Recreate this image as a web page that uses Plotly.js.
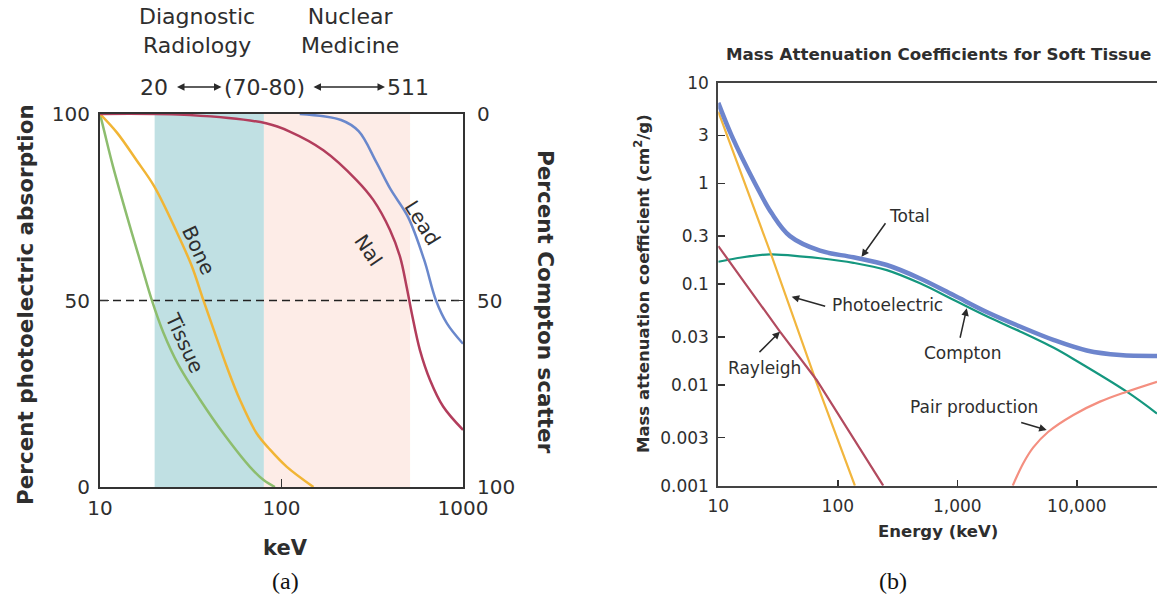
<!DOCTYPE html>
<html>
<head>
<meta charset="utf-8">
<script src="https://cdn.plot.ly/plotly-3.0.1.min.js"></script>
<style>
  html, body { margin: 0; padding: 0; background: #ffffff; }
  #chart { width: 1157px; height: 603px; }
</style>
</head>
<body>
<div id="chart"></div>
<script>
// ---------- Panel (a): percent photoelectric absorption vs keV ----------
const tissueKeV = [10, 10.6, 11.8, 15.0, 17.0, 19.3, 22.3, 27.0, 35.6, 47.8, 67, 80, 92];
const tissuePct = [100, 95, 85.9, 68.0, 59.1, 50.1, 41.5, 32.8, 23.4, 14.4, 5.4, 1.8, 0];

const boneKeV = [10, 12.4, 15.9, 19.9, 26.4, 32.0, 37.1, 43.0, 49.9, 59.1, 72.9, 86.5, 107, 150];
const bonePct = [100, 95, 87.6, 80.6, 68.5, 59.3, 50.1, 41.2, 32.3, 23.3, 14.4, 10.0, 5.4, 0];

const naiKeV = [10, 31.3, 82.2, 111, 170, 259, 321, 396, 450, 489, 522, 579, 658, 779, 1000];
const naiPct = [100, 99.7, 97.5, 95.3, 90.3, 82.3, 76.9, 68.9, 61.7, 53.7, 46.6, 36.7, 28.7, 21.5, 15.3];

const leadKeV = [126, 213, 266, 333, 398, 499, 610, 710, 817, 1000];
const leadPct = [100, 98.4, 95.4, 87.1, 79.9, 72.3, 61.0, 50.0, 43.8, 38.4];

const diagBand = [20, 80];      // Diagnostic radiology range (keV)
const nucBand = [80, 511];      // Nuclear medicine range (keV)
const pctRange = [0, 100];
const halfLine = 50;
const keVRange = [10, 1000];
const leftTicks = [0, 50, 100];
const keVTicks = [10, 100, 1000];

// ---------- Panel (b): mass attenuation coefficients for soft tissue ----------
const totalKeV = [10, 12.9, 20.3, 28, 39.8, 71, 135, 257, 488, 927, 1762, 3350, 6360, 12100, 22970, 46900];
const totalVal = [6.3, 3.0, 1.0, 0.505, 0.30, 0.215, 0.185, 0.155, 0.114, 0.078, 0.053, 0.038, 0.028, 0.022, 0.0198, 0.0194];

const comptonKeV = [10, 14.2, 27, 51, 71, 135, 257, 488, 927, 1762, 3350, 6360, 9660, 26180, 46900];
const comptonVal = [0.167, 0.181, 0.198, 0.188, 0.181, 0.163, 0.138, 0.102, 0.070, 0.048, 0.034, 0.0235, 0.0177, 0.00857, 0.0052];

const photoKeV = [10, 28, 66.5, 139];
const photoVal = [5.15, 0.19, 0.0105, 0.001];

const rayleighKeV = [10, 32.8, 66.5, 240];
const rayleighVal = [0.239, 0.0338, 0.0112, 0.001];

const pairKeV = [2908, 3565, 4325, 5775, 9360, 15630, 26180, 46900];
const pairVal = [0.001, 0.00167, 0.0024, 0.00343, 0.00504, 0.00683, 0.00857, 0.01076];

const bTickVals = [10, 3, 1, 0.3, 0.1, 0.03, 0.01, 0.003, 0.001];
const bTickText = ['10', '3', '1', '0.3', '0.1', '0.03', '0.01', '0.003', '0.001'];
const eTickVals = [10, 100, 1000, 10000];
const eTickText = ['10', '100', '1,000', '10,000'];

// ---------- layout helpers ----------
const W = 1157, H = 603;
const PX = x => x / W;
const PY = y => 1 - y / H;
const L10 = Math.log10;

const TXT = '#2e2e2e';
const AX = '#333333';
const SANS = 'DejaVu Sans';

const traces = [
  // bands
  { x: [diagBand[0], diagBand[1], diagBand[1], diagBand[0]], y: [pctRange[0], pctRange[0], pctRange[1], pctRange[1]],
    xaxis: 'x', yaxis: 'y', mode: 'lines', fill: 'toself', fillcolor: '#c0e0e3', line: { width: 0 }, hoverinfo: 'skip' },
  { x: [nucBand[0], nucBand[1], nucBand[1], nucBand[0]], y: [pctRange[0], pctRange[0], pctRange[1], pctRange[1]],
    xaxis: 'x', yaxis: 'y', mode: 'lines', fill: 'toself', fillcolor: '#fdece7', line: { width: 0 }, hoverinfo: 'skip' },
  // 50% dashed
  { x: keVRange, y: [halfLine, halfLine], xaxis: 'x', yaxis: 'y', mode: 'lines',
    line: { color: '#222', width: 1.6, dash: '8px,5px' }, hoverinfo: 'skip' },
  { x: tissueKeV, y: tissuePct, xaxis: 'x', yaxis: 'y', mode: 'lines', line: { color: '#8dbd6e', width: 2.5, shape: 'spline' } },
  { x: boneKeV, y: bonePct, xaxis: 'x', yaxis: 'y', mode: 'lines', line: { color: '#f1b535', width: 2.5, shape: 'spline' } },
  { x: naiKeV, y: naiPct, xaxis: 'x', yaxis: 'y', mode: 'lines', line: { color: '#b23d5c', width: 2.5, shape: 'spline' } },
  { x: leadKeV, y: leadPct, xaxis: 'x', yaxis: 'y', mode: 'lines', line: { color: '#6a88cc', width: 2.5, shape: 'spline' } },
  // carrier for right-hand Compton axis
  { x: [keVRange[0]], y: [halfLine], xaxis: 'x', yaxis: 'y3', mode: 'markers', marker: { opacity: 0 }, hoverinfo: 'skip' },

  // panel b
  { x: comptonKeV, y: comptonVal, xaxis: 'x2', yaxis: 'y2', mode: 'lines', line: { color: '#15977f', width: 2.2, shape: 'spline' } },
  { x: photoKeV, y: photoVal, xaxis: 'x2', yaxis: 'y2', mode: 'lines', line: { color: '#f2b63e', width: 2.2 } },
  { x: rayleighKeV, y: rayleighVal, xaxis: 'x2', yaxis: 'y2', mode: 'lines', line: { color: '#b24b5f', width: 2.2 } },
  { x: pairKeV, y: pairVal, xaxis: 'x2', yaxis: 'y2', mode: 'lines', line: { color: '#f48f80', width: 2.2, shape: 'spline' } },
  { x: totalKeV, y: totalVal, xaxis: 'x2', yaxis: 'y2', mode: 'lines', line: { color: '#6d85cd', width: 4.5, shape: 'spline' } }
];

const annFontA = { family: SANS, size: 22, color: TXT };
const annFontB = { family: SANS, size: 17, color: TXT };
const arrowC = '#2a2a2a';

// text placed in page pixels (centre)
function pText(x, y, text, font, extra) {
  return Object.assign({ xref: 'paper', yref: 'paper', x: PX(x), y: PY(y), xanchor: 'center', yanchor: 'middle',
    text: text, showarrow: false, font: font }, extra || {});
}

const annotations = [
  // panel a top labels
  pText(197, 31, 'Diagnostic<br>Radiology', annFontA, { align: 'center' }),
  pText(350, 31, 'Nuclear<br>Medicine', annFontA, { align: 'center' }),
  pText(154, 87, '20', annFontA),
  pText(264, 87, '(70-80)', annFontA),
  pText(407.5, 87, '511', annFontA),
  { xref: 'paper', yref: 'paper', x: PX(221.5), y: PY(87), ax: -46, ay: 0, text: '', showarrow: true,
    arrowside: 'end+start', arrowhead: 2, startarrowhead: 2, arrowsize: 1, startarrowsize: 1, arrowwidth: 1.5, arrowcolor: arrowC },
  { xref: 'paper', yref: 'paper', x: PX(385), y: PY(87), ax: -73, ay: 0, text: '', showarrow: true,
    arrowside: 'end+start', arrowhead: 2, startarrowhead: 2, arrowsize: 1, startarrowsize: 1, arrowwidth: 1.5, arrowcolor: arrowC },

  // panel a curve labels
  { xref: 'x', yref: 'y', x: L10(34.8), y: 63.5, xanchor: 'center', yanchor: 'middle', text: 'Bone', textangle: 65, showarrow: false, font: { family: SANS, size: 20, color: TXT } },
  { xref: 'x', yref: 'y', x: L10(29.2), y: 38.5, xanchor: 'center', yanchor: 'middle', text: 'Tissue', textangle: 65, showarrow: false, font: { family: SANS, size: 20, color: TXT } },
  { xref: 'x', yref: 'y', x: L10(301), y: 63.5, xanchor: 'center', yanchor: 'middle', text: 'NaI', textangle: 56, showarrow: false, font: { family: SANS, size: 20, color: TXT } },
  { xref: 'x', yref: 'y', x: L10(600), y: 70.9, xanchor: 'center', yanchor: 'middle', text: 'Lead', textangle: 58, showarrow: false, font: { family: SANS, size: 20, color: TXT } },

  // panel a axis titles
  pText(25, 305, '<b>Percent photoelectric absorption</b>', { family: SANS, size: 21.5, color: TXT }, { textangle: -90 }),
  pText(546, 302, '<b>Percent Compton scatter</b>', { family: SANS, size: 21.5, color: TXT }, { textangle: 90 }),
  pText(285, 548, '<b>keV</b>', { family: SANS, size: 21, color: TXT }),
  pText(285, 581, '(a)', { family: 'Liberation Serif', size: 24, color: '#111' }),

  // panel b titles
  pText(938, 54, '<b>Mass Attenuation Coefficients for Soft Tissue</b>', { family: SANS, size: 16.7, color: TXT }),
  pText(642, 284, '<b>Mass attenuation coefficient (cm<sup>2</sup>/g)</b>', { family: SANS, size: 16.5, color: TXT }, { textangle: -90 }),
  pText(938, 531, '<b>Energy (keV)</b>', { family: SANS, size: 16.5, color: TXT }),
  pText(893, 581, '(b)', { family: 'Liberation Serif', size: 24, color: '#111' }),

  // panel b curve labels
  pText(909, 216, 'Total', annFontB),
  pText(887, 305, 'Photoelectric', annFontB),
  pText(962, 353, 'Compton', annFontB),
  pText(764, 368, 'Rayleigh', annFontB),
  pText(974, 407, 'Pair production', annFontB),

  // panel b arrows (tip on curve)
  { xref: 'x2', yref: 'y2', x: L10(158), y: L10(0.187), ax: 25, ay: -35, text: '', showarrow: true, arrowhead: 2, arrowsize: 1, arrowwidth: 1.5, arrowcolor: arrowC },
  { xref: 'x2', yref: 'y2', x: 1.614, y: -1.124, ax: 35, ay: 10, text: '', showarrow: true, arrowhead: 2, arrowsize: 1, arrowwidth: 1.5, arrowcolor: arrowC },
  { xref: 'x2', yref: 'y2', x: 3.079, y: -1.239, ax: -7, ay: 31, text: '', showarrow: true, arrowhead: 2, arrowsize: 1, arrowwidth: 1.5, arrowcolor: arrowC },
  { xref: 'x2', yref: 'y2', x: 1.516, y: -1.471, ax: -22, ay: 22, text: '', showarrow: true, arrowhead: 2, arrowsize: 1, arrowwidth: 1.5, arrowcolor: arrowC },
  { xref: 'x2', yref: 'y2', x: 3.748, y: -2.447, ax: -27, ay: -8, text: '', showarrow: true, arrowhead: 2, arrowsize: 1, arrowwidth: 1.5, arrowcolor: arrowC }
];

const tickFontA = { family: SANS, size: 20, color: TXT };
const tickFontB = { family: SANS, size: 17, color: TXT };

const layout = {
  width: W, height: H,
  margin: { l: 0, r: 0, t: 0, b: 0 },
  paper_bgcolor: '#ffffff', plot_bgcolor: '#ffffff',
  showlegend: false,
  font: { family: SANS, color: TXT },
  xaxis: {
    type: 'log', domain: [PX(100), PX(463)], range: [L10(keVRange[0]), L10(keVRange[1])], anchor: 'y',
    tickvals: keVTicks, ticktext: keVTicks.map(String), ticks: 'inside', ticklen: 8, tickwidth: 1.5, tickcolor: AX,
    showline: true, linecolor: AX, linewidth: 2, mirror: true, showgrid: false, zeroline: false,
    tickfont: tickFontA, ticklabelstandoff: 2
  },
  yaxis: {
    domain: [PY(487), PY(114)], range: pctRange, anchor: 'x',
    tickvals: leftTicks, ticktext: leftTicks.map(String), ticks: 'inside', ticklen: 9, tickwidth: 1.5, tickcolor: AX,
    showline: true, linecolor: AX, linewidth: 2, mirror: false, showgrid: false, zeroline: false,
    tickfont: tickFontA, ticklabelstandoff: 4
  },
  yaxis3: {
    overlaying: 'y', side: 'right', anchor: 'x', range: [pctRange[1], pctRange[0]],
    tickvals: leftTicks, ticktext: leftTicks.map(String), ticks: 'inside', ticklen: 9, tickwidth: 1.5, tickcolor: AX,
    showline: true, linecolor: AX, linewidth: 2, showgrid: false, zeroline: false,
    tickfont: tickFontA, ticklabelstandoff: 8
  },
  xaxis2: {
    type: 'log', domain: [PX(718.3), 1], range: [1, 4.671], anchor: 'y2',
    tickvals: eTickVals, ticktext: eTickText, ticks: 'inside', ticklen: 6, tickwidth: 1.5, tickcolor: AX,
    showline: true, linecolor: '#444', linewidth: 2, mirror: true, showgrid: false, zeroline: false,
    tickfont: tickFontB, ticklabelstandoff: 4
  },
  yaxis2: {
    type: 'log', domain: [PY(485.7), PY(82.7)], range: [-3, 1], anchor: 'x2',
    tickvals: bTickVals, ticktext: bTickText, ticks: 'inside', ticklen: 7, tickwidth: 1.5, tickcolor: AX,
    showline: true, linecolor: '#444', linewidth: 2, mirror: false, showgrid: false, zeroline: false,
    tickfont: tickFontB, ticklabelstandoff: 4
  },
  annotations: annotations
};

Plotly.newPlot('chart', traces, layout, { staticPlot: true, displayModeBar: false });
</script>
</body>
</html>
